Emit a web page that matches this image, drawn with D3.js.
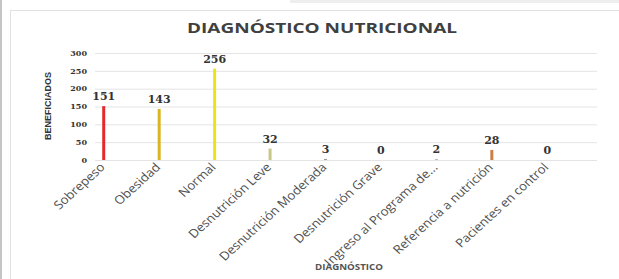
<!doctype html>
<html>
<head>
<meta charset="utf-8">
<title>Diagnóstico nutricional</title>
<script src="https://cdn.jsdelivr.net/npm/d3@7"></script>
<style>
  body { margin: 0; background: #fff; }
  svg { display: block; }
  .grid line { stroke: #e4e4e4; }
  .grid path { display: none; }
</style>
</head>
<body>
<div id="chart"></div>
<script>
// data
var categories = ["Sobrepeso", "Obesidad", "Normal", "Desnutrición Leve", "Desnutrición Moderada",
                  "Desnutrición Grave", "Ingreso al Programa de...", "Referencia a nutrición", "Pacientes en control"];
var values = [151, 143, 256, 32, 3, 0, 2, 28, 0];
var barColors = ["#e5282c", "#d9b522", "#e9e51c", "#c6c78a", "#9a9a9a", "#9a9a9a", "#a0a0a0", "#cd7f48", "#9a9a9a"];
var yTicks = [0, 50, 100, 150, 200, 250, 300];

var W = 619, H = 279;
var svg = d3.select("#chart").append("svg")
    .attr("width", W)
    .attr("height", H);

// page frame
svg.append("rect").attr("x", 0).attr("y", 0).attr("width", 2).attr("height", H).attr("fill", "#c4c4c4");
svg.append("rect").attr("x", 290).attr("y", 0).attr("width", W - 290).attr("height", 3).attr("fill", "#eeeeee");
svg.append("rect").attr("x", 10.5).attr("y", 10.5).attr("width", W).attr("height", H)
    .attr("fill", "none").attr("stroke", "#e2e2e2");

var x = d3.scaleBand()
    .domain(categories)
    .range([76, 575]);

var y = d3.scaleLinear()
    .domain([0, 300])
    .range([160, 53]);

// gridlines
svg.append("g")
    .attr("class", "grid")
    .attr("transform", "translate(95,0)")
    .call(d3.axisLeft(y).tickValues(yTicks).tickSize(-502).tickFormat(""));

// y tick labels
svg.append("g")
  .selectAll("text")
  .data(yTicks)
  .enter()
  .append("text")
    .attr("x", 87)
    .attr("y", function(d) { return y(d); })
    .attr("dy", "0.35em")
    .attr("text-anchor", "end")
    .style("font", "bold 8px 'DejaVu Serif'")
    .style("fill", "#333")
    .text(function(d) { return d; });

// bars
svg.append("g")
  .selectAll("rect")
  .data(values)
  .enter()
  .append("rect")
    .attr("x", function(d, i) { return x(categories[i]) + x.bandwidth() / 2 - 1.5; })
    .attr("y", function(d) { return y(d); })
    .attr("width", 3)
    .attr("height", function(d) { return y(0) - y(d); })
    .attr("fill", function(d, i) { return barColors[i]; });

// value labels
svg.append("g")
  .selectAll("text")
  .data(values)
  .enter()
  .append("text")
    .attr("x", function(d, i) { return x(categories[i]) + x.bandwidth() / 2; })
    .attr("y", function(d) { return y(d) - 6; })
    .attr("text-anchor", "middle")
    .style("font", "bold 11px 'DejaVu Serif'")
    .style("fill", "#333")
    .text(function(d) { return d; });

// category labels
svg.append("g")
  .selectAll("text")
  .data(categories)
  .enter()
  .append("text")
    .attr("transform", function(d) {
      return "translate(" + (x(d) + x.bandwidth() / 2 + 2) + ",168) scale(1.1,1) rotate(-45)";
    })
    .attr("text-anchor", "end")
    .style("font", "12px 'Open Sans'")
    .style("fill", "#505050")
    .text(function(d) { return d; });

// titles
svg.append("text")
    .attr("x", 322).attr("y", 33)
    .attr("text-anchor", "middle")
    .attr("textLength", 270)
    .attr("lengthAdjust", "spacingAndGlyphs")
    .style("font", "bold 14px 'Open Sans'")
    .style("fill", "#404040")
    .text("DIAGNÓSTICO NUTRICIONAL");

svg.append("text")
    .attr("transform", "translate(51,106) rotate(-90)")
    .attr("text-anchor", "middle")
    .attr("textLength", 68)
    .attr("lengthAdjust", "spacingAndGlyphs")
    .style("font", "bold 9px 'Liberation Sans'")
    .style("fill", "#333")
    .text("BENEFICIADOS");

svg.append("text")
    .attr("x", 349).attr("y", 270)
    .attr("text-anchor", "middle")
    .attr("textLength", 68)
    .attr("lengthAdjust", "spacingAndGlyphs")
    .style("font", "bold 8px 'Open Sans'")
    .style("fill", "#555")
    .text("DIAGNÓSTICO");
</script>
</body>
</html>
